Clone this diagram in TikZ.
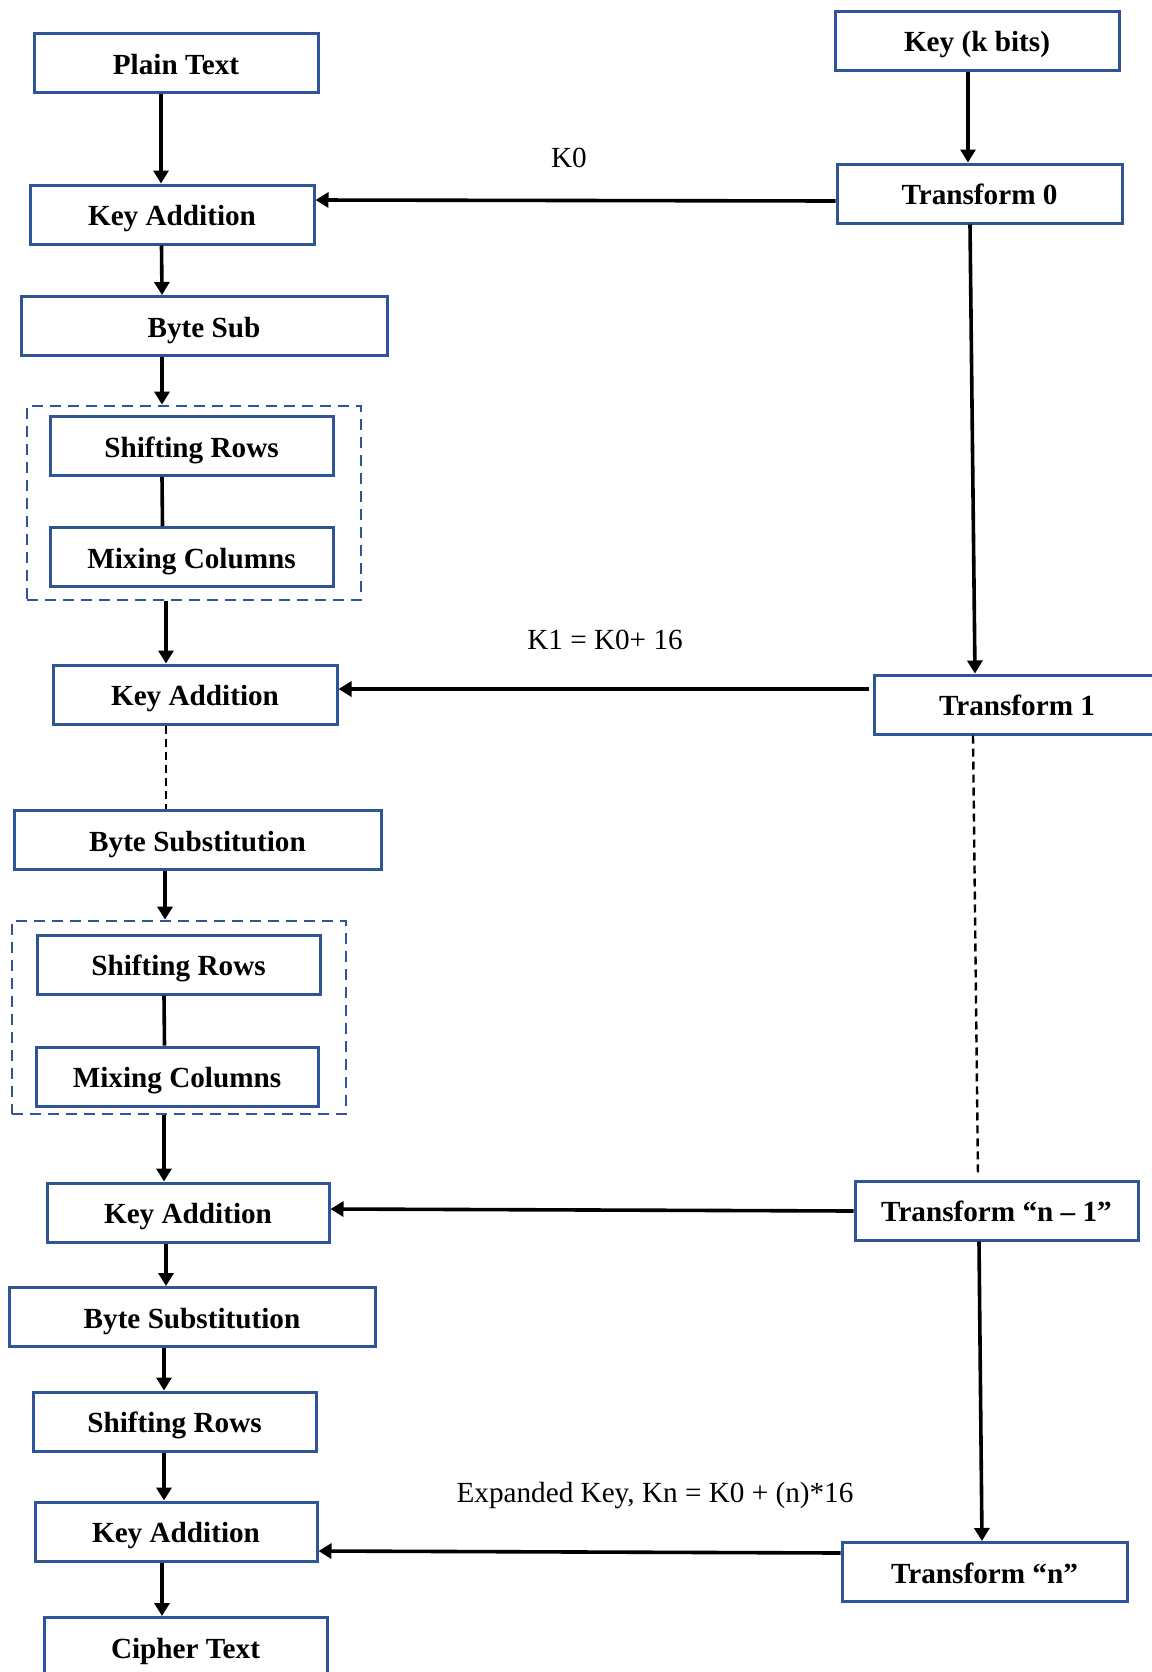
\documentclass[tikz,border=0pt]{standalone}
\usepackage{fontspec}
\setmainfont{Liberation Serif}
\usetikzlibrary{arrows.meta,calc}
\definecolor{boxblue}{RGB}{47,85,151}
\begin{document}
\begin{tikzpicture}[x=0.5pt,y=-0.5pt,
 box/.style={draw=boxblue, line width=1.5pt, minimum height=29.5pt, inner sep=0pt, text height=12.5pt, text depth=1.5pt, font=\fontsize{14.6}{17}\selectfont\bfseries},
 grp/.style={draw=boxblue, line width=1.4pt, dash pattern=on 5.5pt off 3.5pt, inner sep=0pt},
 arr/.style={line width=1.8pt, -{Triangle[length=6.5pt,width=7.5pt]}},
 link/.style={line width=1.8pt},
 dots/.style={line width=1.2pt, dash pattern=on 4pt off 2.5pt},
 lbl/.style={font=\fontsize{14.6}{17}\selectfont, inner sep=0pt}]
\useasboundingbox (0,0) rectangle (1152,1672);
\clip (0,0) rectangle (1152,1672);
% group frames
\node[grp, minimum width=167pt, minimum height=97pt] (db1) at (194,503) {};
\node[grp, minimum width=167pt, minimum height=96.5pt] (db2) at (179,1017.5) {};
% left column
\node[box, minimum width=142pt] (pt) at (176,63) {Plain Text};
\node[box, minimum width=142pt] (ka1) at (172,214.5) {Key Addition};
\node[box, minimum width=183pt] (bs) at (204,326) {Byte Sub};
\node[box, minimum width=141.5pt] (sr1) at (191.5,446) {Shifting Rows};
\node[box, minimum width=141.5pt] (mc1) at (191.5,557) {Mixing Columns};
\node[box, minimum width=142pt] (ka2) at (195,694.5) {Key Addition};
\node[box, minimum width=183.5pt] (bsub1) at (197.5,840) {Byte Substitution};
\node[box, minimum width=141.5pt] (sr2) at (178.5,964.5) {Shifting Rows};
\node[box, minimum width=141pt] (mc2) at (177,1076.5) {Mixing Columns};
\node[box, minimum width=141pt] (ka3) at (188,1212.5) {Key Addition};
\node[box, minimum width=183pt] (bsub2) at (192,1317) {Byte Substitution};
\node[box, minimum width=141.5pt] (sr3) at (174.5,1421.5) {Shifting Rows};
\node[box, minimum width=141pt] (ka4) at (176,1531.5) {Key Addition};
\node[box, minimum width=141.5pt] (ct) at (185.5,1647) {Cipher Text};
% right column
\node[box, minimum width=142pt] (key) at (977,40.5) {Key (k bits)};
\node[box, minimum width=142.5pt] (t0) at (979.5,193.5) {Transform 0};
\node[box, minimum width=143pt] (t1) at (1017,704.5) {Transform 1};
\node[box, minimum width=141.5pt] (tn1) at (996.5,1210.5) {Transform “n – 1”};
\node[box, minimum width=142.5pt] (tn) at (984.5,1572) {Transform “n”};
% labels
\node[lbl] (lk0) at (569,158) {K0};
\node[lbl] (lk1) at (605,640) {K1 = K0+ 16};
\node[lbl] (lkn) at (655,1496) {Expanded Key, Kn = K0 + (n)*16};
% left flow
\draw[arr] ($(pt.south)+(-15,0)$) -- ($(ka1.north)+(-11,0)$);
\draw[arr] ($(ka1.south)+(-10.5,0)$) -- ($(bs.north)+(-42,0)$);
\draw[arr] ($(bs.south)+(-42,0)$) -- ($(db1.north)+(-32,0)$);
\draw[link] ($(sr1.south)+(-29.5,0)$) -- ($(mc1.north)+(-29,0)$);
\draw[arr] ($(db1.south)+(-28,0)$) -- ($(ka2.north)+(-29,0)$);
\draw[dots] ($(ka2.south)+(-29,0)$) -- ($(bsub1.north)+(-31.5,0)$);
\draw[arr] ($(bsub1.south)+(-32.5,0)$) -- ($(db2.north)+(-14,0)$);
\draw[link] ($(sr2.south)+(-14.5,0)$) -- ($(mc2.north)+(-12.5,0)$);
\draw[arr] ($(db2.south)+(-15,0)$) -- ($(ka3.north)+(-24,0)$);
\draw[arr] ($(ka3.south)+(-22,0)$) -- ($(bsub2.north)+(-26,0)$);
\draw[arr] ($(bsub2.south)+(-28,0)$) -- ($(sr3.north)+(-10.5,0)$);
\draw[arr] ($(sr3.south)+(-10.5,0)$) -- ($(ka4.north)+(-12,0)$);
\draw[arr] ($(ka4.south)+(-14,0)$) -- ($(ct.north)+(-23.5,0)$);
% right flow
\draw[arr] ($(key.south)+(-9,0)$) -- ($(t0.north)+(-11.5,0)$);
\draw[arr] ($(t0.south)+(-9.5,0)$) -- ($(t1.north)+(-42,0)$);
\draw[dots] ($(t1.south)+(-44,0)$) -- ($(tn1.north)+(-18.5,-4)$);
\draw[arr] ($(tn1.south)+(-17.5,0)$) -- ($(tn.north)+(-2.5,0)$);
% key injections
\draw[arr] ($(t0.west)+(0,7.5)$) -- ($(ka1.east)+(0,-14.5)$);
\draw[arr] ($(t1.west)+(-4,-15.5)$) -- ($(ka2.east)+(0,-5.5)$);
\draw[arr] ($(tn1.west)+(0,0.5)$) -- ($(ka3.east)+(0,-3.5)$);
\draw[arr] ($(tn.west)+(0,-19)$) -- ($(ka4.east)+(0,19.5)$);
\end{tikzpicture}
\end{document}
